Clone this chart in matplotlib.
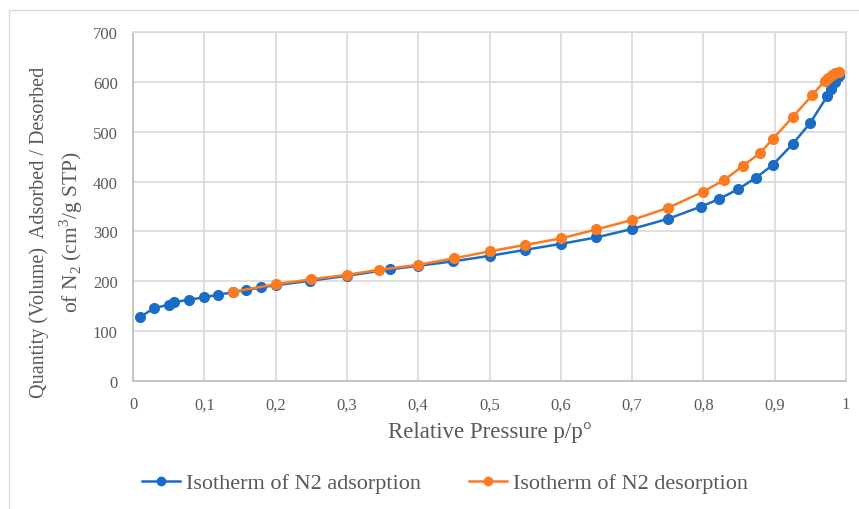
import matplotlib
matplotlib.use("Agg")
import matplotlib.pyplot as plt
from matplotlib.patches import Rectangle

ads_x = [0.01, 0.029, 0.05, 0.057, 0.079, 0.1, 0.119, 0.14, 0.159, 0.18, 0.2, 0.248, 0.3,
         0.361, 0.4, 0.449, 0.5, 0.55, 0.6, 0.65, 0.7, 0.75, 0.797, 0.822, 0.849, 0.874,
         0.897, 0.925, 0.9495, 0.974, 0.979, 0.985, 0.99]
ads_y = [128, 146, 153, 158, 163, 168, 173, 178, 182.5, 188, 192, 201, 211,
         224, 231, 240, 251, 263, 275, 288, 305, 325, 350, 365, 385, 408,
         433, 475, 517, 572, 585, 600, 612]

des_x = [0.99, 0.985, 0.98, 0.975, 0.97, 0.953, 0.925, 0.897, 0.88, 0.856, 0.829, 0.8,
         0.75, 0.7, 0.65, 0.6, 0.55, 0.5, 0.45, 0.4, 0.345, 0.3, 0.25, 0.2, 0.14]
des_y = [620, 617, 613, 608, 602, 574, 529, 485, 458, 432, 403, 380,
         347, 323, 304, 286, 273, 260, 246, 233, 223, 213, 204, 194, 179]

x_ticks = [0, 0.1, 0.2, 0.3, 0.4, 0.5, 0.6, 0.7, 0.8, 0.9, 1]
x_labels = ["0", "0,1", "0,2", "0,3", "0,4", "0,5", "0,6", "0,7", "0,8", "0,9", "1"]
y_ticks = [0, 100, 200, 300, 400, 500, 600, 700]

plt.rcParams['font.family'] = ['Liberation Serif', 'DejaVu Serif']
plt.rcParams['mathtext.fontset'] = 'custom'
plt.rcParams['mathtext.rm'] = 'Liberation Serif'

blue = '#1a6cc7'
orange = '#fb7b22'
grey_txt = '#595959'
grid_c = '#d9d9d9'

W, H = 859, 510
fig = plt.figure(figsize=(W / 100, H / 100), dpi=100)
fig.patches.append(Rectangle((9 / W, -0.05), 1.2, 1 - 11 / H + 0.05, transform=fig.transFigure,
                             fill=False, edgecolor='#d9d9d9', linewidth=1.0))
ax = fig.add_axes([133 / W, 1 - 382 / H, (846 - 133) / W, (382 - 33) / H])

ax.plot(ads_x, ads_y, color=blue, marker='o', markersize=7, linewidth=1.8,
        label='Isotherm of N2 adsorption', zorder=3)
ax.plot(des_x, des_y, color=orange, marker='o', markersize=7, linewidth=1.8,
        label='Isotherm of N2 desorption', zorder=4)

ax.set_xlim(0, 1)
ax.set_ylim(0, 700)
ax.set_xticks(x_ticks)
ax.set_xticklabels(x_labels)
ax.set_yticks(y_ticks)
ax.grid(True, color=grid_c, linewidth=1.2)
ax.set_axisbelow(True)
for s in ax.spines.values():
    s.set_color(grid_c)
    s.set_linewidth(1.2)
ax.spines['left'].set_color('#bfbfbf')
ax.spines['bottom'].set_color('#bfbfbf')
ax.tick_params(axis='both', length=0, labelsize=12, colors=grey_txt)
ax.tick_params(axis='x', pad=11)
ax.tick_params(axis='y', pad=11)

ax.set_xlabel('Relative Pressure p/p°', fontsize=16.5, color=grey_txt, labelpad=6)

fig.text(39 / W, 1 - 232 / H, 'Quantity (Volume)  Adsorbed / Desorbed', rotation=90,
         ha='center', va='center', fontsize=14.5, color=grey_txt)
fig.text(71 / W, 1 - 232 / H, 'of N$_2$ (cm$^3$/g STP)', rotation=90,
         ha='center', va='center', fontsize=15.5, color=grey_txt)

leg = fig.legend(loc='center', bbox_to_anchor=(445 / W, 1 - 484 / H), ncol=2, frameon=False,
                 fontsize=16, handlelength=1.7, columnspacing=2.2, handletextpad=0.25,
                 labelcolor=grey_txt)
for h in leg.legend_handles:
    h.set_markersize(6)

fig.savefig('out.png', dpi=100)
